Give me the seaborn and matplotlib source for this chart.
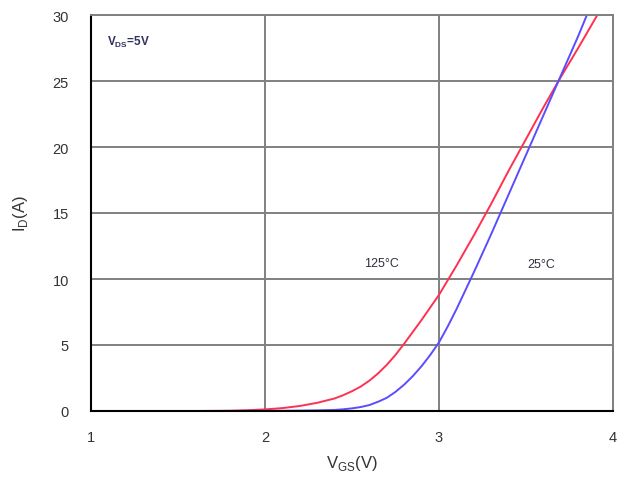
import pandas as pd
import seaborn as sns
import matplotlib.pyplot as plt

# transfer characteristics
vgs_125 = [1.6, 1.8, 1.9, 2.0, 2.1, 2.2, 2.3, 2.4, 2.45, 2.5, 2.55, 2.6, 2.65, 2.7, 2.75, 2.8,
           2.85, 2.9, 2.95, 3.0, 3.1, 3.2, 3.3, 3.4, 3.5, 3.6, 3.7, 3.8, 3.91]
id_125 = [0.0, 0.02, 0.06, 0.12, 0.22, 0.38, 0.62, 0.95, 1.2, 1.5, 1.85, 2.3, 2.85, 3.5, 4.25, 5.1,
          6.0, 6.9, 7.85, 8.8, 11.0, 13.3, 15.7, 18.2, 20.6, 23.0, 25.3, 27.5, 30.0]

vgs_25 = [1.6, 2.0, 2.2, 2.3, 2.4, 2.45, 2.5, 2.55, 2.6, 2.65, 2.7, 2.75, 2.8, 2.85, 2.9, 2.95,
          3.0, 3.05, 3.1, 3.15, 3.2, 3.3, 3.4, 3.5, 3.6, 3.7, 3.8, 3.85]
id_25 = [0.0, 0.01, 0.03, 0.05, 0.08, 0.13, 0.2, 0.3, 0.45, 0.7, 1.0, 1.45, 2.0, 2.65, 3.4, 4.25,
         5.2, 6.4, 7.7, 9.1, 10.5, 13.4, 16.4, 19.4, 22.4, 25.4, 28.4, 30.0]

xticks = [1, 2, 3, 4]
yticks = [0, 5, 10, 15, 20, 25, 30]

df = pd.concat([
    pd.DataFrame({'vgs': vgs_125, 'id': id_125, 'temp': '125°C'}),
    pd.DataFrame({'vgs': vgs_25, 'id': id_25, 'temp': '25°C'}),
])

sns.set_style('white')
plt.rcParams['font.family'] = ['Liberation Sans', 'DejaVu Sans']

fig = plt.figure(figsize=(6.2, 4.81), dpi=100)
ax = fig.add_axes([91 / 620, 69 / 481, 522 / 620, 396 / 481])

ax.grid(visible=True, color='#808080', linewidth=1.4)
ax.set_axisbelow(True)

sns.lineplot(
    data=df, x='vgs', y='id', hue='temp', sort=False,
    palette={'125°C': '#ff3050', '25°C': '#5a4cff'},
    linewidth=1.4, legend=False, ax=ax, estimator=None,
)

ax.set_xlim(1, 4)
ax.set_ylim(0, 30)
ax.set_xticks(xticks)
ax.set_yticks(yticks)
ax.tick_params(length=0, labelsize=10.5, labelcolor='#333333')
ax.tick_params(axis='x', pad=14)
ax.tick_params(axis='y', pad=16)

for side in ['left', 'bottom']:
    ax.spines[side].set_color('black')
    ax.spines[side].set_linewidth(1.5)
for side in ['top', 'right']:
    ax.spines[side].set_color('#808080')
    ax.spines[side].set_linewidth(1.4)

ax.set_xlabel(r'V$_{\mathregular{GS}}$(V)', fontsize=12, color='#333333', labelpad=6)
ax.set_ylabel(r'I$_{\mathregular{D}}$(A)', fontsize=12, color='#333333', labelpad=16)

ax.text(1.09, 28.0, r'V$_{\mathregular{DS}}$=5V', fontsize=8.5, color='#303060',
        fontweight='bold', va='center')
ax.text(2.67, 11.2, '125°C', fontsize=9, color='#303040', ha='center', va='center')
ax.text(3.59, 11.1, '25°C', fontsize=9, color='#303040', ha='center', va='center')

fig.savefig('out.png', dpi=100)
